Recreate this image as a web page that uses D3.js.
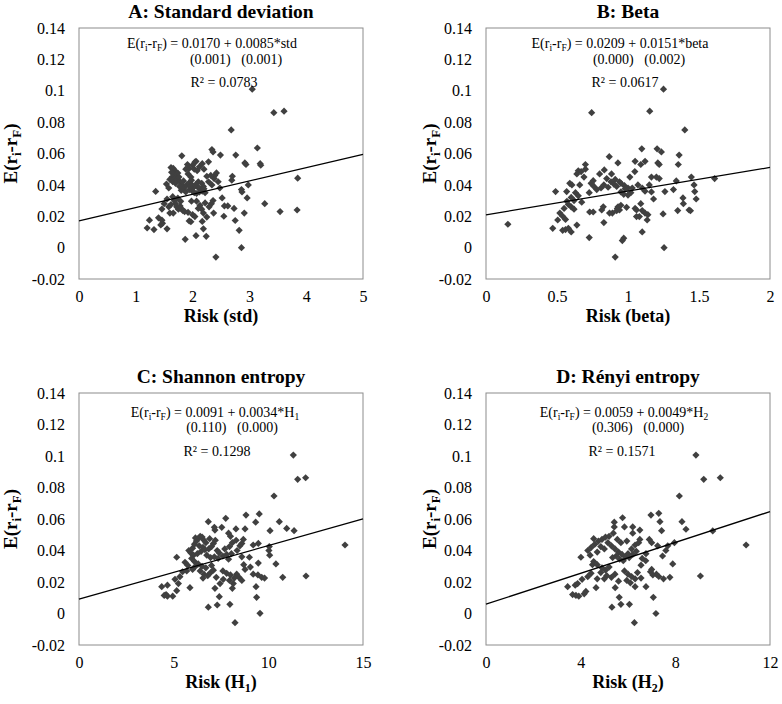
<!DOCTYPE html>
<html><head><meta charset="utf-8">
<script src="https://cdn.jsdelivr.net/npm/d3@7"></script>
<style>
body{margin:0;background:#fff}
svg{display:block}
text{font-family:"Liberation Serif","Times New Roman",serif;fill:#000}
</style>
</head><body>
<svg id="chart" width="782" height="704"></svg>
<script>
// ---- data ----
const stdPoints = [
[3.05,0.101],[3.43,0.086],[3.61,0.087],[2.68,0.075],[3.14,0.0635],[2.34,0.0625],[2.36,0.061],[2.49,0.059],[2.76,0.059],[1.81,0.0585],
[2.06,0.055],[2.04,0.0545],[2.92,0.054],[2.94,0.053],[3.19,0.0535],[3.2,0.0525],[2.28,0.0547],[1.91,0.053],[2.42,0.0476],[2.39,0.046],
[2.70,0.0455],[2.69,0.043],[3.85,0.0443],[2.98,0.040],[2.48,0.038],[2.86,0.037],[2.87,0.0355],[1.35,0.0358],[2.96,0.0317],[2.52,0.0317],
[3.27,0.028],[3.54,0.023],[3.84,0.024],[2.56,0.0266],[2.62,0.0266],[2.73,0.025],[2.91,0.022],[2.37,0.022],[2.55,0.020],[2.75,0.0173],
[1.24,0.0175],[1.2,0.0125],[1.32,0.0115],[1.44,0.0145],[1.47,0.0155],[1.55,0.012],[1.46,0.0175],[1.4,0.019],[1.94,0.017],[1.97,0.0165],
[2.17,0.0167],[2.19,0.012],[2.82,0.011],[2.06,0.0076],[2.24,0.0072],[1.87,0.0053],[2.86,0.0],[2.41,-0.006],
[1.62,0.051],[1.66,0.0505],[1.69,0.049],[1.63,0.048],[1.67,0.047],[1.71,0.046],[1.64,0.045],[1.68,0.044],[1.72,0.043],[1.65,0.042],
[1.7,0.041],[1.6,0.0435],[1.74,0.0475],[1.76,0.045],[1.78,0.042],[1.82,0.04],[1.85,0.038],[1.8,0.0365],[1.88,0.0355],[1.77,0.039],
[1.9,0.04],[1.84,0.0425],[1.93,0.041],[1.96,0.039],[1.99,0.04],[2.02,0.0385],[2.05,0.04],[2.08,0.039],[2.11,0.038],[2.14,0.037],
[2.17,0.036],[1.95,0.037],[2.0,0.036],[2.03,0.035],[2.07,0.0345],[2.12,0.0355],[2.19,0.039],[2.16,0.041],[1.98,0.043],[2.1,0.042],
[2.2,0.0375],[2.22,0.035],[1.88,0.05],[1.94,0.0505],[1.92,0.047],[1.97,0.045],[2.0,0.0525],[2.03,0.05],[2.08,0.049],[2.12,0.0515],
[2.17,0.0535],[2.2,0.05],[2.25,0.0455],[2.28,0.042],[2.34,0.04],[2.38,0.044],[2.45,0.042],[2.32,0.046],[1.54,0.0405],[1.58,0.038],
[1.55,0.031],[1.46,0.0246],[1.6,0.022],[1.66,0.022],[1.65,0.0325],[1.68,0.03],[1.7,0.028],[1.72,0.026],[1.75,0.0245],[1.78,0.0265],
[1.8,0.025],[1.83,0.0235],[1.86,0.023],[1.74,0.0315],[1.79,0.0295],[1.62,0.0275],[1.58,0.026],[1.5,0.028],[1.98,0.0296],[2.07,0.0296],
[2.04,0.0198],[2.0,0.021],[2.13,0.027],[2.16,0.0245],[2.19,0.022],[2.25,0.0195],[2.29,0.026],[2.33,0.028],[2.36,0.03],[2.1,0.025],
[2.22,0.0285],[1.92,0.0225]
];
const betaPoints = [
[0.154,0.0149],[0.744,0.086],[1.153,0.087],[1.40,0.075],[1.25,0.101],[1.097,0.063],[1.205,0.063],[1.235,0.061],[1.36,0.059],[0.868,0.058],
[0.929,0.054],[1.05,0.055],[1.12,0.055],[1.09,0.053],[1.21,0.054],[1.22,0.053],[1.354,0.053],[0.70,0.053],[0.70,0.050],[0.65,0.049],
[0.67,0.0485],[0.64,0.047],[0.833,0.0495],[0.80,0.047],[0.884,0.047],[1.048,0.0485],[1.165,0.045],[1.2,0.045],[1.22,0.044],[1.446,0.045],
[1.61,0.044],[0.755,0.0427],[0.69,0.045],[0.95,0.041],[0.975,0.0395],[1.0,0.038],[1.013,0.045],[1.07,0.040],[1.34,0.0425],[1.465,0.040],
[0.59,0.041],[0.605,0.040],[0.66,0.040],[0.49,0.0357],[0.568,0.0357],[1.47,0.0357],[1.26,0.0357],[1.32,0.037],[1.165,0.0355],[0.727,0.035],
[0.78,0.037],[0.81,0.038],[1.48,0.031],[1.387,0.0317],[1.18,0.031],[0.6,0.032],[0.62,0.030],[0.674,0.029],[1.39,0.028],[1.35,0.0236],
[1.43,0.024],[1.44,0.0235],[1.247,0.0215],[0.826,0.026],[0.815,0.024],[0.755,0.0227],[0.73,0.0227],[0.87,0.022],[0.89,0.022],[0.93,0.026],
[0.94,0.024],[0.925,0.025],[0.99,0.0257],[1.05,0.025],[1.06,0.024],[1.09,0.028],[1.1,0.0236],[1.12,0.022],[1.06,0.0198],[1.08,0.0198],
[1.14,0.021],[1.135,0.0176],[0.52,0.022],[0.54,0.020],[0.56,0.018],[0.505,0.0176],[0.47,0.0123],[0.54,0.011],[0.56,0.0115],[0.58,0.0123],
[0.6,0.010],[0.64,0.0144],[0.83,0.016],[0.727,0.0064],[0.97,0.006],[0.96,0.0045],[1.1,0.010],[1.254,0.0],[0.91,-0.006],
[0.85,0.044],[0.88,0.042],[0.9,0.0405],[0.92,0.039],[0.86,0.0385],[0.83,0.04],[0.95,0.0355],[0.97,0.034],[1.0,0.0335],[1.02,0.035],
[0.98,0.0375],[1.03,0.038],[0.91,0.0435],[0.94,0.042],[0.76,0.039],[0.74,0.041],[0.58,0.0275],[0.6,0.026],[0.62,0.0245],[0.57,0.0295],
[0.65,0.033],[0.63,0.035],[0.55,0.025],[1.1,0.038],[1.12,0.036],[1.15,0.04],[0.95,0.027],[0.92,0.0235]
];
const shannonPoints = [
[11.32,0.1006],[11.55,0.0852],[11.97,0.0862],[10.3,0.0746],[14.05,0.0435],[11.99,0.0238],[9.52,0.0632],[8.82,0.0625],[10.58,0.0583],[6.83,0.0583],
[7.75,0.0604],[10.97,0.054],[11.36,0.0526],[10.09,0.0526],[9.33,0.058],[8.29,0.0537],[8.77,0.0537],[7.15,0.0547],[7.54,0.0547],[7.18,0.053],
[7.9,0.051],[8.0,0.049],[8.68,0.047],[8.6,0.0445],[9.2,0.0435],[9.47,0.0445],[10.05,0.0425],[10.07,0.037],[10.03,0.040],[5.16,0.0357],
[9.0,0.0357],[9.47,0.032],[10.4,0.0315],[10.76,0.023],[9.2,0.025],[9.45,0.0245],[9.65,0.023],[9.8,0.0225],[8.77,0.028],[8.33,0.025],
[8.45,0.023],[8.6,0.021],[8.15,0.019],[8.1,0.016],[7.62,0.0217],[7.45,0.019],[7.18,0.016],[7.41,0.0107],[7.3,0.0054],[6.83,0.004],
[7.97,0.0058],[9.35,0.017],[9.38,0.0103],[9.56,0.0001],[8.24,-0.0058],[5.86,0.0164],[5.25,0.019],[5.16,0.0145],[4.37,0.017],[4.67,0.018],
[4.6,0.012],[4.67,0.011],[4.5,0.0115],[4.95,0.011],[5.07,0.0217],[5.33,0.0234],[5.47,0.0265],[5.69,0.027],[6.13,0.0297],
[6.0,0.0415],[6.1,0.044],[6.2,0.046],[6.3,0.0475],[6.4,0.049],[6.5,0.0485],[6.6,0.0465],[6.7,0.045],[6.15,0.048],[6.35,0.043],
[6.55,0.042],[5.8,0.040],[5.9,0.0385],[6.05,0.037],[6.25,0.038],[6.45,0.0395],[6.65,0.0405],[6.85,0.041],[7.0,0.0425],[7.1,0.0445],
[7.2,0.0465],[6.9,0.0475],[7.3,0.04],[7.4,0.0385],[6.75,0.037],[6.95,0.0355],[7.15,0.036],[7.35,0.035],[7.6,0.0365],[7.8,0.0375],
[7.7,0.041],[7.95,0.0425],[8.1,0.045],[8.3,0.0465],[8.5,0.043],[8.35,0.040],[8.05,0.038],[8.6,0.036],[7.9,0.0345],[6.1,0.033],
[6.3,0.0315],[6.5,0.030],[6.7,0.029],[6.4,0.027],[6.6,0.025],[6.8,0.024],[6.95,0.026],[7.1,0.0275],[6.55,0.0225],[7.25,0.023],
[7.6,0.027],[7.8,0.0255],[8.0,0.0245],[8.2,0.0225],[7.95,0.021],[5.95,0.035],[5.6,0.0325],[5.75,0.0305],[6.0,0.028],[7.0,0.0305],
[8.7,0.031],[9.05,0.0295]
];
const renyiPoints = [
[8.87,0.1006],[9.2,0.0852],[9.9,0.0862],[8.17,0.0746],[10.99,0.0435],[9.06,0.0238],[9.58,0.0524],[8.45,0.0535],[8.28,0.0583],[7.3,0.0636],
[6.97,0.0625],[7.35,0.0583],[7.42,0.0526],[5.77,0.0608],[5.42,0.058],[5.42,0.055],[5.38,0.051],[5.85,0.055],[6.2,0.055],[6.5,0.053],
[6.2,0.051],[6.5,0.047],[6.9,0.047],[7.0,0.045],[7.25,0.043],[7.68,0.043],[7.6,0.040],[7.96,0.045],[7.46,0.0365],[7.89,0.0315],
[4.01,0.0357],[6.76,0.038],[6.55,0.0307],[7.0,0.028],[6.95,0.0265],[7.2,0.025],[7.3,0.0235],[7.05,0.0245],[7.77,0.023],[7.5,0.022],
[6.76,0.017],[7.07,0.0103],[7.18,0.0],[6.27,-0.0058],[6.06,0.0058],[5.7,0.0058],[5.63,0.0103],[5.32,0.004],[5.46,0.0164],[4.65,0.0164],
[3.45,0.017],[3.77,0.018],[3.87,0.019],[3.66,0.012],[3.8,0.0115],[3.92,0.011],[4.15,0.0125],[4.22,0.014],[4.06,0.0217],[4.3,0.0234],
[4.44,0.0255],[4.5,0.031],
[4.3,0.040],[4.45,0.042],[4.6,0.044],[4.75,0.046],[4.9,0.047],[5.05,0.0485],[5.2,0.049],[4.55,0.0475],[4.85,0.0425],[5.0,0.041],
[4.7,0.039],[4.4,0.037],[5.15,0.045],[5.3,0.043],[5.45,0.041],[5.6,0.039],[5.75,0.0375],[5.9,0.036],[6.05,0.0355],[6.2,0.0375],
[6.35,0.0395],[5.5,0.0365],[5.35,0.0355],[5.65,0.0345],[5.8,0.0335],[6.0,0.038],[6.15,0.041],[6.3,0.0435],[6.45,0.045],[5.95,0.046],
[5.7,0.045],[5.55,0.047],[4.55,0.033],[4.7,0.031],[4.9,0.029],[5.05,0.0275],[4.85,0.026],[5.1,0.024],[5.3,0.023],[5.45,0.025],
[5.2,0.0295],[4.7,0.022],[5.0,0.022],[5.85,0.027],[6.0,0.025],[6.15,0.0235],[5.95,0.021],[6.1,0.0195],[6.3,0.022],[6.4,0.026],
[6.55,0.0225],[6.3,0.017],[5.6,0.0205],[6.75,0.0335],[6.6,0.035]
];
const panelTitles = ["A: Standard deviation","B: Beta","C: Shannon entropy","D: Rényi entropy"];
const xDomains = [[0,5],[0,2],[0,15],[0,12]];
const xTickValues = [[0,1,2,3,4,5],[0,0.5,1,1.5,2],[0,5,10,15],[0,4,8,12]];
const yTickValues = [-0.02,0,0.02,0.04,0.06,0.08,0.1,0.12,0.14];
const yDomain = [-0.02,0.14];
const riskNames = ["std","beta","H","H"];
const riskSubs = ["","","1","2"];
const intercepts = [0.0170,0.0209,0.0091,0.0059];
const slopes = [0.0085,0.0151,0.0034,0.0049];
const interceptText = ["0.0170","0.0209","0.0091","0.0059"];
const slopeText = ["0.0085","0.0151","0.0034","0.0049"];
const pValues = [["(0.001)","(0.001)"],["(0.000)","(0.002)"],["(0.110)","(0.000)"],["(0.306)","(0.000)"]];
const rSquared = ["0.0783","0.0617","0.1298","0.1571"];
const allPoints = [stdPoints, betaPoints, shannonPoints, renyiPoints];

// ---- layout ----
const layout = [
  {l:79, t:28, r:363, b:279, yl:17, eq:[[212,47.5],[236,64],[224,86.5]]},
  {l:486,t:28, r:770, b:279, yl:436, eq:[[620,47.5],[639,64],[625,86.5]]},
  {l:79, t:393,r:363, b:645, yl:17, eq:[[215,416.5],[232,431.5],[217,455.5]]},
  {l:486,t:393,r:770, b:645, yl:436, eq:[[624,416.5],[638,431.5],[622,455.5]]}
];

const svg = d3.select("#chart");
const fmt = d => String(+d.toFixed(2));
const diamond = "M0,-3.6L3.6,0L0,3.6L-3.6,0Z";

layout.forEach((L, i) => {
  const x = d3.scaleLinear().domain(xDomains[i]).range([L.l, L.r]);
  const y = d3.scaleLinear().domain(yDomain).range([L.b, L.t]);
  const g = svg.append("g");

  g.append("rect").attr("x", L.l).attr("y", L.t).attr("width", L.r - L.l).attr("height", L.b - L.t)
    .attr("fill", "none").attr("stroke", "#8c8c8c").attr("stroke-width", 1);

  const ya = g.append("g").attr("transform", `translate(${L.l},0)`)
    .call(d3.axisLeft(y).tickValues(yTickValues).tickFormat(fmt).tickSize(0).tickPadding(14));
  ya.select(".domain").remove();
  ya.selectAll("text").attr("font-size", 16).attr("font-family", "Liberation Serif").attr("fill", "#000");

  const xa = g.append("g").attr("transform", `translate(0,${L.b})`)
    .call(d3.axisBottom(x).tickValues(xTickValues[i]).tickFormat(fmt).tickSize(0).tickPadding(12));
  xa.select(".domain").remove();
  xa.selectAll("text").attr("font-size", 16).attr("font-family", "Liberation Serif").attr("fill", "#000");

  g.append("g").selectAll("path").data(allPoints[i]).join("path")
    .attr("d", diamond)
    .attr("transform", d => `translate(${x(d[0])},${y(d[1])})`)
    .attr("fill", "#404040");

  const xd = xDomains[i];
  g.append("line")
    .attr("x1", x(xd[0])).attr("y1", y(intercepts[i] + slopes[i] * xd[0]))
    .attr("x2", x(xd[1])).attr("y2", y(intercepts[i] + slopes[i] * xd[1]))
    .attr("stroke", "#000").attr("stroke-width", 1.3);

  g.append("text").attr("x", (L.l + L.r) / 2).attr("y", L.t - 10)
    .attr("text-anchor", "middle").attr("font-size", 19.5).attr("font-weight", "bold")
    .text(panelTitles[i]);

  const xt = g.append("text").attr("x", (L.l + L.r) / 2).attr("y", L.b + 43)
    .attr("text-anchor", "middle").attr("font-size", 18).attr("font-weight", "bold");
  xt.append("tspan").text(`Risk (${riskNames[i]}`);
  if (riskSubs[i]) xt.append("tspan").attr("font-size", 12).attr("dy", 4).text(riskSubs[i]);
  xt.append("tspan").attr("dy", riskSubs[i] ? -4 : 0).text(")");

  const yt = g.append("text")
    .attr("transform", `translate(${L.yl},${(L.t + L.b) / 2}) rotate(-90)`)
    .attr("text-anchor", "middle").attr("font-size", 19).attr("font-weight", "bold");
  yt.append("tspan").text("E(r");
  yt.append("tspan").attr("font-size", 13).attr("dy", 4).text("i");
  yt.append("tspan").attr("dy", -4).text("-r");
  yt.append("tspan").attr("font-size", 13).attr("dy", 4).text("F");
  yt.append("tspan").attr("dy", -4).text(")");

  const e = L.eq;
  const t1 = g.append("text").attr("x", e[0][0]).attr("y", e[0][1]).attr("text-anchor", "middle").attr("font-size", 14);
  t1.append("tspan").text("E(r");
  t1.append("tspan").attr("font-size", 9.5).attr("dy", 3).text("i");
  t1.append("tspan").attr("dy", -3).text("-r");
  t1.append("tspan").attr("font-size", 9.5).attr("dy", 3).text("F");
  t1.append("tspan").attr("dy", -3).text(`) = ${interceptText[i]} + ${slopeText[i]}*${riskNames[i]}`);
  if (riskSubs[i]) t1.append("tspan").attr("font-size", 9.5).attr("dy", 3).text(riskSubs[i]);

  g.append("text").attr("x", e[1][0]).attr("y", e[1][1]).attr("text-anchor", "middle").attr("font-size", 14)
    .style("white-space", "pre").text(`${pValues[i][0]}   ${pValues[i][1]}`);

  g.append("text").attr("x", e[2][0]).attr("y", e[2][1]).attr("text-anchor", "middle").attr("font-size", 14)
    .text(`R² = ${rSquared[i]}`);
});
</script>
</body></html>
